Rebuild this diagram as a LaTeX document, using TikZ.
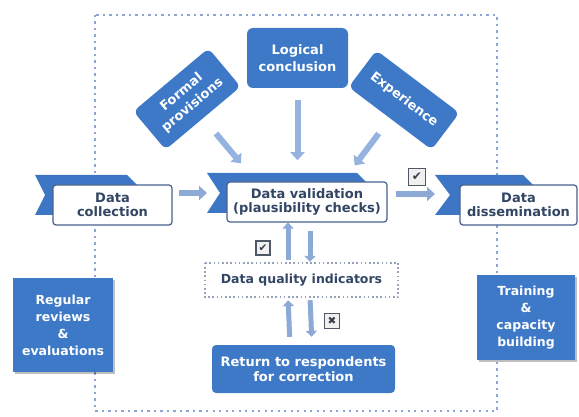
\documentclass[tikz,border=0pt]{standalone}
\usepackage{fontspec}
\setmainfont{DejaVu Sans}
\usetikzlibrary{arrows.meta,calc,shadows}

\definecolor{bannerblue}{RGB}{61,118,196}
\definecolor{boxblue}{RGB}{62,121,200}
\definecolor{edgeblue}{RGB}{72,98,140}
\definecolor{txtdark}{RGB}{50,70,100}
\definecolor{flowblue}{RGB}{141,169,213}
\definecolor{feedblue}{RGB}{150,178,222}
\definecolor{framedot}{RGB}{140,166,212}
\definecolor{dqidot}{RGB}{150,162,184}
\definecolor{cboxedge}{RGB}{80,88,104}

\begin{document}
\begin{tikzpicture}[x=1pt,y=-1pt,
  lbl/.style={font=\bfseries\fontsize{13}{14.5}\selectfont, align=center},
  wbox/.style={lbl, draw=edgeblue, line width=1.2pt, fill=white,
    rounded corners=3pt, text=txtdark, inner sep=2pt},
  bluebox/.style={lbl, font=\bfseries\fontsize{13}{17}\selectfont,
    fill=boxblue, text=white, rounded corners=6pt, inner sep=2pt},
  sidebox/.style={bluebox, rounded corners=0pt,
    drop shadow={shadow xshift=1.5pt, shadow yshift=-1.5pt, fill=black, opacity=0.25}},
  banner/.style={fill=bannerblue},
  flow/.style={draw=flowblue, line width=6.5pt,
    -{Triangle[width=14pt,length=8pt]}},
  feed/.style={draw=feedblue, line width=6pt,
    -{Triangle[width=14pt,length=8pt]}},
  vflow/.style={draw=flowblue, line width=5pt,
    -{Triangle[width=11pt,length=6pt]}},
  cbox/.style={draw=cboxedge, line width=1.4pt, fill=gray!12, text=cboxedge!70!black,
    minimum size=#1, inner sep=0pt, font=\fontsize{12}{12}\selectfont},
  frame/.style={draw=framedot, line width=2.2pt, dash pattern=on 2.2pt off 4.3pt},
  dqiframe/.style={draw=dqidot, line width=1.6pt, dash pattern=on 1.6pt off 2.6pt}
]
\useasboundingbox (0,0) rectangle (579,417);

% dotted boundary of the validation process
\draw[frame] (95,15) rectangle (497,411);

% ribbon backs of the three main stages
\fill[banner] (35,175) -- (127,175) -- (147,195) -- (127,215) -- (35,215) -- (45,195) -- cycle;
\fill[banner] (207,173) -- (357,173) -- (377,193) -- (357,213) -- (207,213) -- (220,193) -- cycle;
\fill[banner] (435,175) -- (523,175) -- (543,195) -- (523,215) -- (435,215) -- (450,195) -- cycle;
\coordinate (valL) at (207,193);
\coordinate (dissL) at (435,194);

% main stages
\node[wbox, minimum width=119pt, minimum height=40pt] (coll) at (112.5,205) {Data\\collection};
\node[wbox, minimum width=160pt, minimum height=40pt] (val) at (307,202) {Data validation\\(plausibility checks)};
\node[wbox, minimum width=117pt, minimum height=40pt] (diss) at (518.5,205) {Data\\dissemination};

% sources of the checks
\node[bluebox, minimum width=101pt, minimum height=60pt] (logic) at (297.5,58) {Logical\\conclusion};
\node[bluebox, minimum width=98pt, minimum height=50pt, rotate=40] (formal) at (187,99) {Formal\\provisions};
\node[bluebox, minimum width=104pt, minimum height=46pt, rotate=-37] (exper) at (404,100) {Experience};

\draw[feed] ($(formal.center)!45pt!(formal.south)$) -- ($(formal.center)!84pt!(formal.south)$);
\draw[feed] ($(logic.south)+(0,12)$) -- ($(logic.south)+(0,72)$);
\draw[feed] ($(exper.center)!42pt!(exper.south)$) -- ($(exper.center)!82pt!(exper.south)$);

% flow between stages
\draw[flow] ([xshift=6pt]coll.east |- valL) -- (valL);
\draw[flow] ([xshift=8pt]val.east |- dissL) -- (dissL);
\node[cbox=17pt] (ck2) at (417,177) {✔};

% quality indicators and the correction loop
\node[font=\bfseries\fontsize{12.5}{14}\selectfont, text=txtdark, minimum width=193pt, minimum height=34pt,
  inner sep=0pt] (dqi) at (301.5,280) {Data quality indicators};
\draw[dqiframe] (dqi.north west) rectangle (dqi.south east);

\node[bluebox, font=\bfseries\fontsize{13}{15}\selectfont, rounded corners=4pt,
  minimum width=183pt, minimum height=48pt] (ret) at (303.5,369)
  {Return to respondents\\for correction};

\draw[vflow, shorten <=3pt] ([xshift=-13.5pt]dqi.north) -- ([xshift=-13.5pt]dqi.north |- val.south);
\draw[vflow, shorten <=8pt, shorten >=1pt] ([xshift=8.5pt]dqi.north |- val.south) -- ([xshift=8.5pt]dqi.north);
\node[cbox=14pt, font=\fontsize{10.5}{10.5}\selectfont] (ck1) at (263,248) {✔};

\draw[vflow, shorten <=8pt, shorten >=3pt] ([xshift=-13.5pt]ret.north) -- ([xshift=-13.5pt]dqi.south);
\draw[vflow, shorten <=3pt, shorten >=8pt] ([xshift=8.5pt]dqi.south) -- ([xshift=8.5pt]ret.north);
\node[cbox=15pt, font=\fontsize{10.5}{10.5}\selectfont] (ck3) at (332,321) {✖};

% supporting activities
\node[sidebox, font=\bfseries\fontsize{12.5}{17}\selectfont, minimum width=100pt, minimum height=94pt]
  (rev) at (63,325) {Regular\\reviews\\\&\\evaluations};
\node[sidebox, font=\bfseries\fontsize{12.5}{17}\selectfont, minimum width=98pt, minimum height=85pt]
  (train) at (526,317.5) {Training\\\&\\capacity\\building};
\end{tikzpicture}
\end{document}
